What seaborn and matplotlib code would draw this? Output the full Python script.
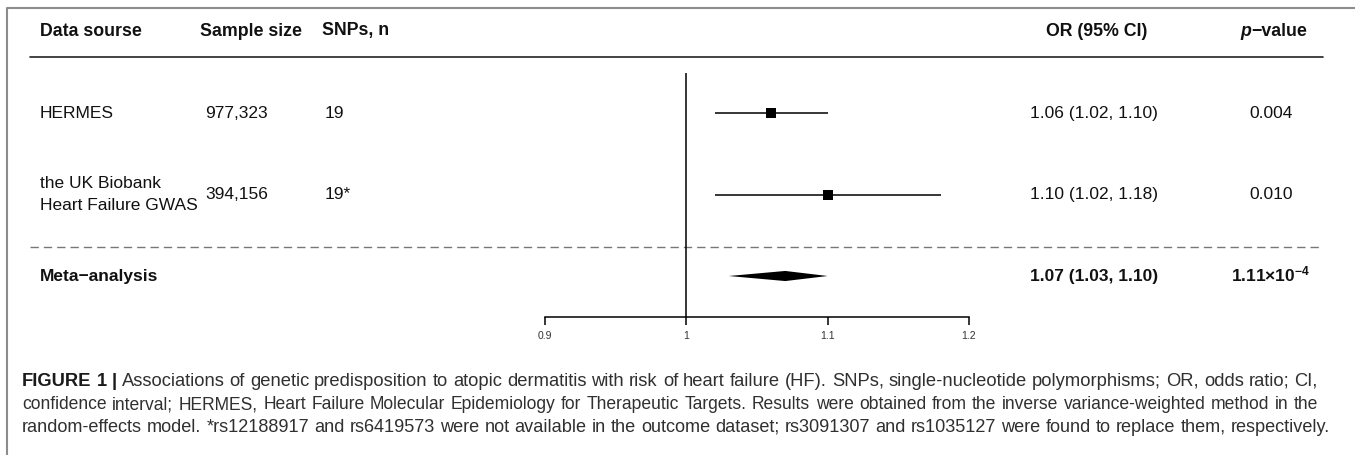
import matplotlib
matplotlib.use('Agg')
import matplotlib.pyplot as plt
import matplotlib.transforms as mtransforms
import pandas as pd
import seaborn as sns

# table / forest data
sources = ['HERMES', 'the UK Biobank\nHeart Failure GWAS', 'Meta\u2212analysis']
sample_sizes = ['977,323', '394,156', '']
snps = ['19', '19*', '']
or_est = [1.06, 1.10, 1.07]
ci_low = [1.02, 1.02, 1.03]
ci_high = [1.10, 1.18, 1.10]
or_labels = ['1.06 (1.02, 1.10)', '1.10 (1.02, 1.18)', '1.07 (1.03, 1.10)']
p_labels = ['0.004', '0.010', r'$\mathbf{1.11{\times}10^{-4}}$']
rows = [3, 2, 1]
is_summary = [False, False, True]

headers = ['Data sourse', 'Sample size', 'SNPs, n', 'OR (95% CI)']
x_ticks = [0.9, 1.0, 1.1, 1.2]
tick_labels = ['0.9', '1', '1.1', '1.2']

caption_lead = 'FIGURE 1 |'
caption_lines = [
    'Associations of genetic predisposition to atopic dermatitis with risk of heart failure (HF). '
    'SNPs, single-nucleotide polymorphisms; OR, odds ratio; CI,',
    'confidence interval; HERMES, Heart Failure Molecular Epidemiology for Therapeutic Targets. '
    'Results were obtained from the inverse variance-weighted method in the',
    'random-effects model. *rs12188917 and rs6419573 were not available in the outcome dataset; '
    'rs3091307 and rs1035127 were found to replace them, respectively.',
]

sns.set_style('white')
plt.rcParams['font.family'] = ['Liberation Sans', 'DejaVu Sans']
plt.rcParams['mathtext.fontset'] = 'custom'
plt.rcParams['mathtext.rm'] = 'Liberation Sans'
plt.rcParams['mathtext.bf'] = 'Liberation Sans:bold'

W, H = 1355, 455
fig = plt.figure(figsize=(W / 100, H / 100), dpi=100)
fig.patch.set_facecolor('white')

# background axes in pixel units for table text and rules
bg = fig.add_axes([0, 0, 1, 1])
bg.set_xlim(0, W)
bg.set_ylim(H, 0)
bg.axis('off')

# forest plot axes
ax = fig.add_axes([545 / W, 1 - 317 / H, (969 - 545) / W, (317 - 73) / H])
ax.patch.set_alpha(0)

df = pd.DataFrame({'est': or_est, 'lo': ci_low, 'hi': ci_high, 'row': rows, 'summary': is_summary})
study = df[~df['summary']]
meta = df[df['summary']]

ax.hlines(study['row'], study['lo'], study['hi'], color='black', lw=1.1, zorder=2)
sns.scatterplot(data=study, x='est', y='row', marker='s', s=62, color='black',
                linewidth=0, ax=ax, legend=False, zorder=3)
for _, m in meta.iterrows():
    h = 0.062
    ax.fill([m['lo'], m['est'], m['hi'], m['est']],
            [m['row'], m['row'] + h, m['row'], m['row'] - h],
            color='black', lw=0, zorder=3)
ax.axvline(1, color='black', lw=1.1, zorder=1)

ax.set_xlim(0.9, 1.2)
ax.set_ylim(0.497, 3.491)
ax.set_xlabel('')
ax.set_ylabel('')
ax.set_yticks([])
ax.set_xticks(x_ticks, tick_labels)
for s in ['top', 'right', 'left']:
    ax.spines[s].set_visible(False)
ax.spines['bottom'].set_color('black')
ax.spines['bottom'].set_linewidth(1.1)
ax.tick_params(axis='x', direction='out', length=6, width=1.1, labelsize=7.5,
               pad=4, colors='black', labelcolor='#333333', bottom=True)

# figure frame (top and left edges)
bg.plot([7, 7, W], [H, 8, 8], color='#8c8c8c', lw=1.5)

# header
hy = 31
txt = dict(fontsize=12.8, va='center', color='#111111')
bg.text(40, hy, headers[0], ha='left', fontweight='bold', **txt)
bg.text(200, hy, headers[1], ha='left', fontweight='bold', **txt)
bg.text(322, hy, headers[2], ha='left', fontweight='bold', **txt)
bg.text(1097, hy, headers[3], ha='center', fontweight='bold', **txt)
bg.text(1251, hy, 'p', ha='right', fontweight='bold', fontstyle='italic', **txt)
bg.text(1251, hy, '\u2212value', ha='left', fontweight='bold', **txt)
bg.plot([30, 1323], [57, 57], color='#222222', lw=1.2)
bg.plot([30, 1323], [247, 247], color='#777777', lw=1.0, dashes=(6, 3.6))

# row text tied to forest rows
trans = mtransforms.blended_transform_factory(bg.transData, ax.transData)
lift = trans + mtransforms.ScaledTranslation(0, 1 / 72, fig.dpi_scale_trans)
for i, r in enumerate(rows):
    w = 'bold' if is_summary[i] else 'normal'
    kw = dict(fontsize=12.5, va='center', color='#111111', fontweight=w)
    bg.text(40, r, sources[i], ha='left', linespacing=1.6, transform=trans, **kw)
    bg.text(205, r, sample_sizes[i], ha='left', transform=trans, **kw)
    bg.text(325, r, snps[i], ha='left', transform=trans, **kw)
    bg.text(1094, r, or_labels[i], ha='center', transform=trans, **kw)
    bg.text(1271, r, p_labels[i], ha='center',
            transform=lift if is_summary[i] else trans, **kw)

# caption: size fitted per line, then words spread to justify
fig.canvas.draw()
renderer = fig.canvas.get_renderer()


def text_width(s, size, weight='normal'):
    t = bg.text(0, 0, s, fontsize=size, fontweight=weight)
    wdt = t.get_window_extent(renderer).width
    t.remove()
    return wdt


x0 = 22
base = 12.0
cap_base = [386, 409, 432]
targets = [1318, 1318, 1330]
cap_col = '#303030'

for k, line in enumerate(caption_lines):
    words = [(wd, 'normal') for wd in line.split(' ')]
    if k == 0:
        words = [(wd, 'bold') for wd in caption_lead.split(' ')] + words
    natural = text_width(caption_lead + ' ', base, 'bold') if k == 0 else 0
    natural += text_width(line, base)
    size = base * (targets[k] - x0) / natural
    widths = [text_width(wd, size, wt) for wd, wt in words]
    gap = (targets[k] - x0 - sum(widths)) / (len(words) - 1)
    x = x0
    for (wd, wt), wdt in zip(words, widths):
        bg.text(x, cap_base[k], wd, fontsize=size, fontweight=wt, ha='left', va='baseline',
                color='#1a1a1a' if wt == 'bold' else cap_col)
        x += wdt + gap

fig.savefig('out.png', dpi=100, facecolor='white')
